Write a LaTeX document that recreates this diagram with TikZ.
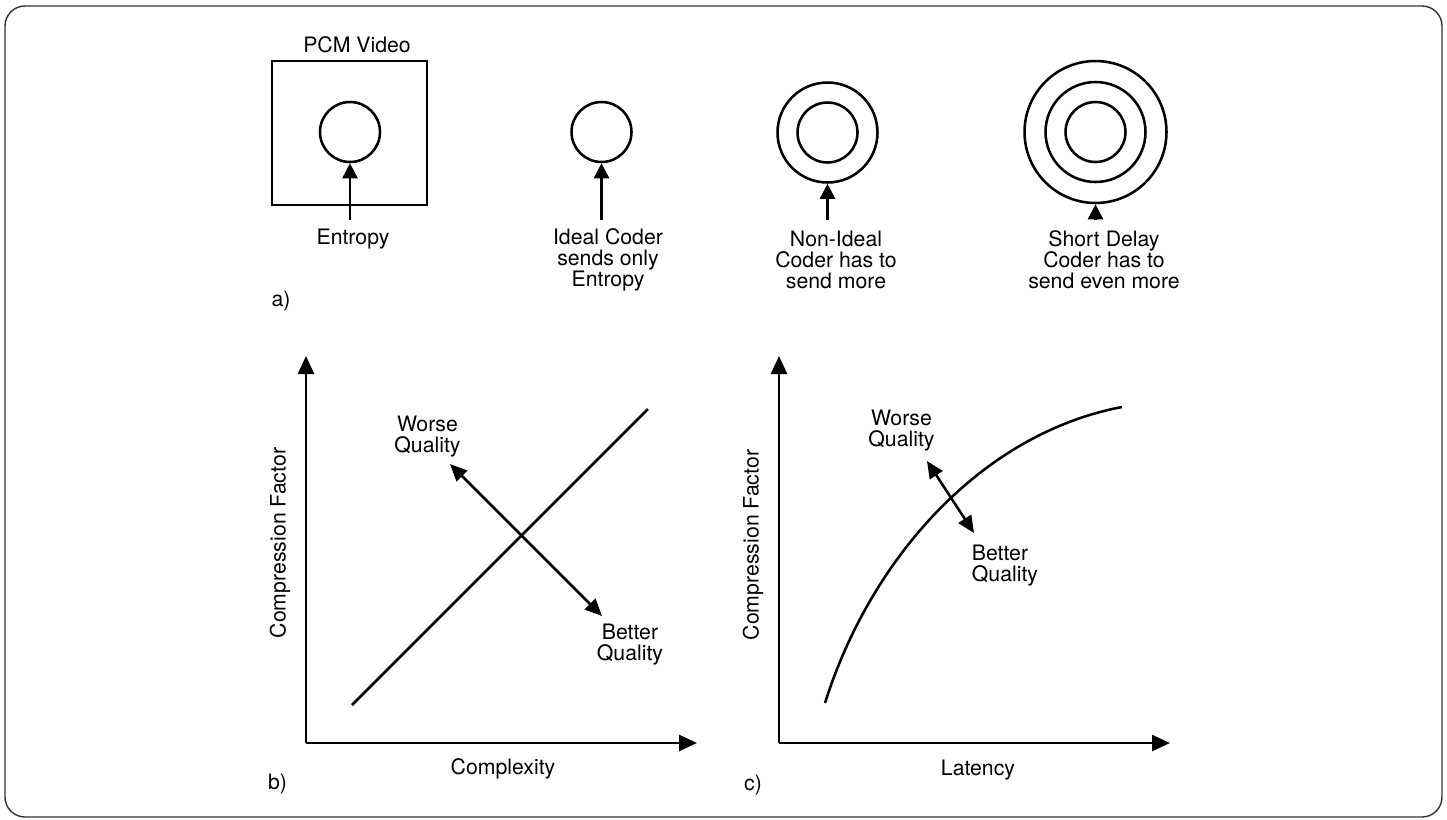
\documentclass[tikz,border=0pt]{standalone}
\usepackage{fontspec}
\setmainfont{TeX Gyre Heros}
\usetikzlibrary{arrows.meta}

\begin{document}
\begin{tikzpicture}
        [%%%%%%%%%%%%%%%%%%%%%%%%%%%%%%
        x=0.02cm, y=-0.02cm,
        lbl/.style={font=\fontsize{12.1}{12}\selectfont, align=center, inner sep=0pt},
        ring/.style={circle, draw, line width=1.45pt, inner sep=0pt},
        arr/.style={line width=1.45pt, -{Triangle[length=0.3cm,width=0.3cm]}},
        dbl/.style={line width=1.45pt, {Triangle[length=0.34cm,width=0.3cm]}-{Triangle[length=0.34cm,width=0.3cm]}},
        axis/.style={line width=1.5pt, -{Triangle[length=0.36cm,width=0.32cm]}},
        ]%%%%%%%%%%%%%%%%%%%%%%%%%%%%%%
        \useasboundingbox (0,0) rectangle (1447,819);
        % Frame
        \draw[line width=0.8pt, black!80, rounded corners=0.4cm] (5,6) rectangle (1442,817);

        % PCM VIDEO
        \node[draw, line width=1.45pt, minimum width=3.1cm, minimum height=2.88cm] (pcm) at (349.5,133){};
        \node[ring, minimum size=1.2cm] (pcmIn) at (350,132){};
        \node[lbl] (pcmLbl) at (357,45){PCM Video};
        \node[lbl] (ent) at (353,239){Entropy};
        \coordinate (pcmTail) at (350,220);
        \draw[arr] (pcmTail) -- (pcmIn.south);

        % IDEAL CODER
        \node[ring, minimum size=1.2cm] (idealIn) at (601.5,132){};
        \node[lbl] (ideal) at (608,260){Ideal Coder\\sends only\\Entropy};
        \coordinate (idealTail) at (601.5,220);
        \draw[arr] (idealTail) -- (idealIn.south);

        % NON-IDEAL CODER
        \foreach \d/\n in {1.2/In,2/Out}{
          \node[ring, minimum size=\d cm] (non\n) at (827.5,132.5){};
        }
        \node[lbl] (nonideal) at (836,260){Non-Ideal\\Coder has to\\send more};
        \coordinate (nonTail) at (827.5,220);
        \draw[arr] (nonTail) -- (nonOut.south);

        % SHORT DELAY CODER
        \foreach \d/\n in {1.2/In,2/Mid,2.84/Out}{
          \node[ring, minimum size=\d cm] (short\n) at (1095.5,132){};
        }
        \node[lbl] (shortdelay) at (1104,260){Short Delay\\Coder has to\\send even more};
        \coordinate (shortTail) at (1095.5,220);
        \draw[arr] (shortTail) -- (shortOut.south);

        \node[lbl] (partA) at (281,301){a)};

        % PLOT B
        \coordinate (oB) at (306,743);
        \coordinate (yB) at (306,356);
        \coordinate (xB) at (697,743);
        \draw[axis] (oB) -- (yB);
        \draw[axis] (oB) -- (xB);
        \coordinate (lineBs) at (352,705);
        \coordinate (lineBe) at (648,409);
        \draw[line width=1.45pt] (lineBs) -- (lineBe);
        \coordinate (worseB) at (450,464);
        \coordinate (betterB) at (602,616);
        \draw[dbl] (worseB) -- (betterB);
        \node[lbl] (worseBLbl) at (427.5,437){Worse\\Quality};
        \node[lbl] (betterBLbl) at (630,645){Better\\Quality};
        \node[lbl, rotate=90] (cfB) at (280,543){Compression Factor};
        \node[lbl] (cplx) at (503,769){Complexity};
        \node[lbl] (partB) at (277.5,784){b)};

        % PLOT C
        \coordinate (oC) at (779,743);
        \coordinate (yC) at (779,356);
        \coordinate (xC) at (1170,743);
        \draw[axis] (oC) -- (yC);
        \draw[axis] (oC) -- (xC);
        \coordinate (curveCs) at (825,703);
        \coordinate (curveCe) at (1122,407);
        \draw[line width=1.45pt] (curveCs) .. controls (870,560) and (980,434) .. (curveCe);
        \coordinate (worseC) at (927,461);
        \coordinate (betterC) at (974,533);
        \draw[dbl] (worseC) -- (betterC);
        \node[lbl] (worseCLbl) at (901.5,431){Worse\\Quality};
        \node[lbl, align=left] (betterCLbl) at (1005,566){Better\\Quality};
        \node[lbl, rotate=90] (cfC) at (753,545){Compression Factor};
        \node[lbl] (lat) at (978,770){Latency};
        \node[lbl] (partC) at (753,785){c)};
      \end{tikzpicture}
\end{document}
